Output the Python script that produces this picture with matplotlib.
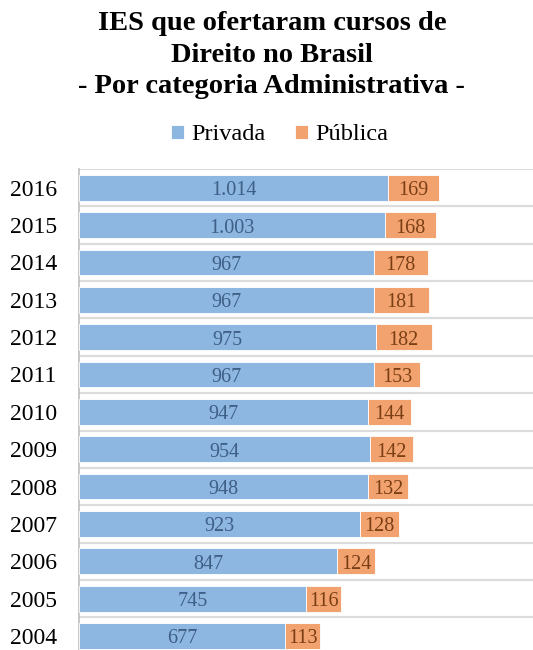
import matplotlib
matplotlib.use("Agg")
import matplotlib.pyplot as plt

years = ["2004", "2005", "2006", "2007", "2008", "2009", "2010", "2011", "2012", "2013", "2014", "2015", "2016"]
privada = [677, 745, 847, 923, 948, 954, 947, 967, 975, 967, 967, 1003, 1014]
publica = [113, 116, 124, 128, 132, 142, 144, 153, 182, 181, 178, 168, 169]

plt.rcParams['font.family'] = ['Liberation Serif', 'DejaVu Serif']

blue = "#8DB6E0"
orange = "#F2A26E"

fig = plt.figure(figsize=(5.33, 6.5), dpi=100)
ax = fig.add_axes([79/533, 0, 1 - 79/533, 1 - 169/650])

y = list(range(len(years)))
b1 = ax.barh(y, privada, height=0.69, color=blue, edgecolor="white", linewidth=0.6, label="Privada", zorder=3)
b2 = ax.barh(y, publica, left=privada, height=0.69, color=orange, edgecolor="white", linewidth=0.6, label="Pública", zorder=3)

def fmt(v):
    return f"{v:,}".replace(",", ".")

for i in y:
    ax.text(privada[i] / 2, i - 0.08, fmt(privada[i]), ha="center", va="center", fontsize=14.5, color="#3E5F86", zorder=4)
    ax.text(privada[i] + publica[i] / 2, i - 0.08, fmt(publica[i]), ha="center", va="center", fontsize=14.5, color="#7B3F15", zorder=4)

ax.set_xlim(0, 1490)
ax.set_ylim(-0.375, 12.5)
for k in range(len(years)):
    ax.axhline(k + 0.5, color="#DCDCDC", linewidth=1.6, zorder=1)
ax.set_yticks(y)
ax.set_yticklabels(years, fontsize=17)
ax.tick_params(axis="y", length=0, pad=16)
ax.set_xticks([])
for s in ["top", "right", "bottom"]:
    ax.spines[s].set_visible(False)
ax.spines["left"].set_color("#BFBFBF")
ax.spines["left"].set_linewidth(1.2)

fig.text(0.51, 1 - 55/650, "IES que ofertaram cursos de\nDireito no Brasil\n- Por categoria Administrativa -",
         ha="center", va="center", fontsize=20.5, fontweight="bold", linespacing=1.33)

fig.legend(handles=[b1, b2], labels=["Privada", "Pública"], loc="center", bbox_to_anchor=(0.525, 1 - 135/650),
           ncol=2, frameon=False, fontsize=17.5, handlelength=0.55, handleheight=0.55, handletextpad=0.3, columnspacing=1.2)

fig.savefig("out.png", dpi=100)
